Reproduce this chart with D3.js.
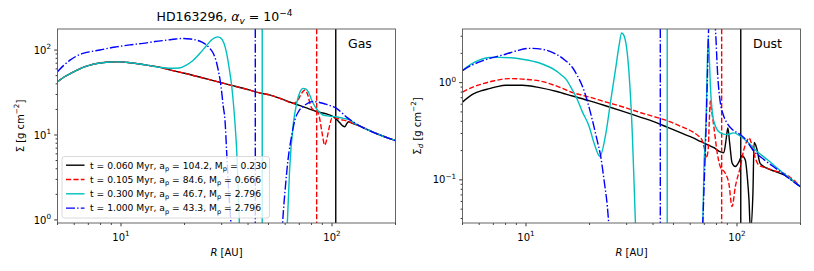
<!DOCTYPE html>
<html><head><meta charset="utf-8">
<script src="https://cdn.jsdelivr.net/npm/d3@7"></script>
<style>
body{margin:0;background:#fff;}
text{font-family:"DejaVu Sans",sans-serif;fill:#000;}
</style></head><body>
<svg id="chart" width="814" height="271"></svg>
<script>
// ---------------- data ----------------
const times   = [0.060, 0.105, 0.300, 1.000];      // Myr
const planetA = [104.2, 84.6, 46.7, 43.3];         // AU
const planetM = [0.230, 0.666, 2.796, 2.796];
const seriesColors = ["#000000", "#ff0000", "#00bfbf", "#0000ff"];
const xTickLabels = [10, 100];
const gasYTicks = [1, 10, 100];
const dustYTicks = [0.1, 1];
const panelNames = ["Gas", "Dust"];

// Gas surface density [R (AU), Sigma (g cm^-2)]
const gasT0060 = [[5,42.4],[5.4,48.5],[5.8,53.5],[6.2,58],[6.7,63.3],[7.2,67],[7.8,70],[8.5,72],[9.3,72.6],[10,72.5],[11,71],[12,69],[13.5,66],[15,63.3],[17,58.5],[20,53.3],[24,47.5],[28,43],[33,38.7],[40,34.2],[46,31],[51,29.5],[58,26.4],[66,23.5],[75,21],[85,18.8],[95,17.6],[101.5,16.4],[105,15.3],[109,13.9],[112.5,12.8],[115.2,12.5],[117.5,13.6],[119.5,14.3],[125,13.7],[135,12.8],[150,11.3],[169,10.0],[185,9.2],[200,8.6]];
const gasT0105 = [[5,42.4],[5.4,48.5],[5.8,53.5],[6.2,58],[6.7,63.3],[7.2,67],[7.8,70],[8.5,72],[9.3,72.6],[10,72.5],[11,71],[12,69],[13.5,66],[15,63.3],[17,58.5],[20,53.3],[24,47.5],[28,43],[33,38.7],[40,34.2],[46,31],[51,29.5],[58,26.4],[66,23.6],[69,25.8],[71.5,30.5],[74.5,33.8],[77,29],[79,22.5],[81.5,19.7],[84.6,19.2],[87,16.5],[89.5,11],[92.4,7.6],[95,9.5],[97.5,13],[100,15.8],[104,15.8],[110,15.2],[118,14.6],[126,13.7],[135,12.8],[150,11.3],[169,10.0],[185,9.2],[200,8.6]];
const gasT0300 = [[5,42.4],[5.4,48.5],[5.8,53.5],[6.2,58],[6.7,63.3],[7.2,67],[7.8,70],[8.5,72],[9.3,72.6],[10,72.5],[11,71],[12,69],[13.5,66],[15.3,62.6],[17,61],[18.9,61.5],[20.5,67],[22,76],[23.8,93],[25.5,114],[27,133],[28.6,143],[29.5,140],[30.7,122],[31.7,91],[32.6,60],[33.5,37],[34.6,15],[35.4,6.1],[36.4,0.9],[37.2,0.3],[60,0.3],[61.4,0.9],[63,4],[65.6,13.7],[68,23.6],[70.5,32],[73,35.4],[75,34.8],[77.2,32.3],[80,26],[83.1,21.6],[86,19.2],[90.6,17.2],[97,16.7],[105,16.4],[113,15.7],[122,15],[128,13.7],[135,12.8],[150,11.3],[169,10.0],[185,9.2],[200,8.6]];
const gasT1000 = [[5,55.6],[5.35,66],[5.73,76],[6.1,84],[6.6,91.4],[7.2,96],[7.95,100],[8.7,105],[9.5,109],[11,115],[12.7,120],[14.5,126],[16.5,131],[18.2,135],[19.8,137],[21.3,135],[22.8,131],[24.2,124],[25.5,114],[26.5,103],[27.4,91],[28.2,75],[28.9,58],[29.8,37],[30.5,22],[31.1,15],[31.7,6.1],[32.4,2.2],[33.2,0.9],[34,0.3],[57,0.3],[58.3,0.9],[60,2.3],[62,5.3],[64.5,10],[66.7,15],[69.5,19],[73,21.6],[77,23.8],[81.4,24.7],[86,24.4],[92,23.3],[98,22.2],[105,20.6],[112,18],[118,16],[126,14.3],[135,12.8],[150,11.3],[169,10.0],[185,9.2],[200,8.6]];

// Dust surface density [R (AU), Sigma_d (g cm^-2)]
const dustT0060 = [[5,0.63],[5.6,0.76],[6.2,0.83],[6.7,0.867],[7.3,0.91],[8,0.938],[9.6,0.938],[11.6,0.888],[14,0.81],[16.6,0.728],[20,0.65],[24,0.575],[28.6,0.509],[35,0.44],[40,0.4],[47.6,0.342],[55,0.3],[62,0.27],[67,0.249],[72,0.232],[78.1,0.213],[82,0.198],[86.6,0.19],[88.8,0.26],[90.5,0.342],[92.3,0.24],[94.8,0.149],[98.2,0.137],[102,0.152],[105.7,0.177],[109.5,0.16],[112,0.105],[114,0.062],[115.8,0.03],[119,0.073],[120.5,0.243],[122.5,0.23],[124.5,0.204],[128.5,0.149],[138.4,0.132],[150,0.123],[166,0.113],[185,0.097],[200,0.085]];
const dustT0105 = [[5,0.8],[5.6,0.9],[6.2,0.97],[7,1.04],[8.3,1.1],[10,1.08],[11.6,1.04],[14,0.92],[16.6,0.79],[20,0.71],[24,0.63],[28.6,0.565],[35,0.49],[40,0.45],[47.6,0.4],[55,0.35],[62,0.31],[65.9,0.281],[68,0.262],[70,0.213],[71.5,0.168],[73,0.204],[73.9,0.4],[74.8,0.646],[76,0.5],[78,0.329],[80.4,0.196],[83.3,0.137],[88,0.117],[91.5,0.092],[94.8,0.053],[98.2,0.085],[103.8,0.137],[107.5,0.2],[111.2,0.249],[114,0.27],[116.5,0.245],[119,0.204],[126.5,0.143],[138.4,0.132],[150,0.124],[166,0.117],[185,0.1],[200,0.085]];
const dustT0300 = [[5,1.33],[5.5,1.55],[6,1.7],[6.7,1.81],[7.5,1.82],[8.5,1.8],[9.6,1.74],[11.5,1.6],[13.9,1.32],[14.7,1.2],[15.5,1.08],[16.3,0.9],[17.2,0.728],[18.5,0.5],[19.9,0.356],[21,0.24],[22.4,0.174],[23.9,0.3],[25.2,0.65],[26.6,1.4],[27.6,2.4],[28.4,3.24],[29.2,3.0],[30.2,2.0],[31,1.0],[31.9,0.3],[32.6,0.08],[33.1,0.03],[34,0.01],[67,0.01],[68.8,0.03],[69.8,0.15],[70.6,0.23],[71.5,0.5],[72.3,1.5],[73,2.92],[73.8,2.0],[74.8,0.924],[76,0.55],[78,0.386],[83.3,0.304],[89.4,0.292],[96.5,0.304],[103.8,0.281],[111.2,0.249],[124.5,0.196],[140,0.16],[160,0.125],[180,0.102],[200,0.085]];
const dustT1000 = [[5,1.33],[5.5,1.5],[6.2,1.67],[7,1.82],[8,1.96],[9,2.12],[10.4,2.25],[12,2.2],[13.9,1.96],[15.3,1.7],[16.6,1.43],[17.5,1.18],[18.5,0.92],[19.5,0.65],[20.6,0.417],[21.6,0.27],[22.6,0.174],[23.5,0.095],[24.3,0.053],[24.8,0.03],[25.5,0.01],[66,0.01],[68.6,0.03],[70,0.1],[71.5,0.4],[72.5,1.3],[73.4,3.7],[74.5,6],[77,6],[79,3.6],[81,1.2],[83.4,0.62],[86,0.47],[89.6,0.386],[95,0.33],[103.8,0.292],[110,0.26],[118.7,0.204],[135,0.16],[160,0.122],[180,0.1],[200,0.085]];

const gasSeries  = [gasT0060, gasT0105, gasT0300, gasT1000];
const dustSeries = [dustT0060, dustT0105, dustT0300, dustT1000];

// ---------------- drawing ----------------
const svg = d3.select("#chart");
const LW = 1.4;
const dashes = [null, "5.2,2.2", null, "9,2.2,1.4,2.2"];

const panels = [
  {left:57.5, right:395.5, top:29, bottom:223, ydom:[0.92,177], series:gasSeries, yticks:gasYTicks, name:panelNames[0], ylabX:20},
  {left:462.5, right:800.5, top:29, bottom:223, ydom:[0.036,3.56], series:dustSeries, yticks:dustYTicks, name:panelNames[1], ylabX:417}
];

function supLabel(sel, base, exp, size){
  sel.text(base);
  sel.append("tspan").attr("dy", -size*0.42).attr("font-size", size*0.72).text(exp);
}

panels.forEach((p, pi) => {
  const x = d3.scaleLog().domain([5, 200]).range([p.left, p.right]);
  const y = d3.scaleLog().domain(p.ydom).range([p.bottom, p.top]);
  const g = svg.append("g");
  const clipId = "clip" + pi;
  svg.append("clipPath").attr("id", clipId).append("rect")
    .attr("x", p.left).attr("y", p.top).attr("width", p.right - p.left).attr("height", p.bottom - p.top);

  const plot = g.append("g").attr("clip-path", `url(#${clipId})`);
  const line = d3.line().x(d => x(d[0])).y(d => y(d[1])).curve(d3.curveMonotoneX);

  p.series.forEach((s, i) => {
    plot.append("path").attr("d", line(s)).attr("fill", "none")
      .attr("stroke", seriesColors[i]).attr("stroke-width", LW)
      .attr("stroke-dasharray", dashes[i]).attr("stroke-linejoin", "round");
    plot.append("line").attr("x1", x(planetA[i])).attr("x2", x(planetA[i]))
      .attr("y1", p.top).attr("y2", p.bottom)
      .attr("stroke", seriesColors[i]).attr("stroke-width", LW)
      .attr("stroke-dasharray", dashes[i]);
  });

  // axes ticks
  const isMajor = v => Math.abs(Math.log10(v) - Math.round(Math.log10(v))) < 1e-6;
  const xt = x.ticks();
  const yt = y.ticks();
  const tickG = g.append("g").attr("stroke", "#000").attr("stroke-width", 0.8);
  xt.forEach(v => {
    const len = isMajor(v) ? 3.3 : 1.9;
    tickG.append("line").attr("x1", x(v)).attr("x2", x(v)).attr("y1", p.bottom).attr("y2", p.bottom + len);
  });
  yt.forEach(v => {
    const len = isMajor(v) ? 3.3 : 1.9;
    tickG.append("line").attr("x1", p.left - len).attr("x2", p.left).attr("y1", y(v)).attr("y2", y(v));
  });
  // frame
  g.append("rect").attr("x", p.left).attr("y", p.top).attr("width", p.right - p.left)
    .attr("height", p.bottom - p.top).attr("fill", "none").attr("stroke", "#555").attr("stroke-width", 0.9);

  const fs = 10;
  xTickLabels.forEach(v => {
    const t = g.append("text").attr("x", x(v)).attr("y", 240.5).attr("text-anchor", "middle").attr("font-size", fs);
    supLabel(t, "10", String(Math.round(Math.log10(v))), fs);
  });
  p.yticks.forEach(v => {
    const e = Math.round(Math.log10(v));
    const t = g.append("text").attr("x", p.left - 6.5).attr("y", y(v) + 3.6).attr("text-anchor", "end").attr("font-size", fs);
    supLabel(t, "10", (e < 0 ? "\u2212" : "") + Math.abs(e), fs);
  });

  // x label
  const xl = g.append("text").attr("x", (p.left + p.right)/2).attr("y", 256).attr("text-anchor", "middle").attr("font-size", fs);
  xl.append("tspan").attr("font-style", "italic").text("R");
  xl.append("tspan").text(" [AU]");

  // y label
  const yl = g.append("text").attr("transform", `translate(${p.ylabX + 3.5},${(p.top + p.bottom)/2}) rotate(-90)`)
    .attr("text-anchor", "middle").attr("font-size", fs);
  yl.append("tspan").text("\u03A3");
  if (pi === 1) {
    yl.append("tspan").attr("font-style", "italic").attr("font-size", fs*0.72).attr("dy", 2.4).text("d");
    yl.append("tspan").attr("dy", -2.4).text(" [g cm");
  } else {
    yl.append("tspan").text(" [g cm");
  }
  yl.append("tspan").attr("font-size", fs*0.72).attr("dy", -4.1).text("\u22122");
  yl.append("tspan").attr("dy", 4.1).text("]");

  // panel name
  g.append("text").attr("x", p.right - 47.5).attr("y", 48).attr("font-size", 12.5).text(p.name);

  if (pi === 0) {
    // title
    const tt = g.append("text").attr("x", (p.left + p.right)/2 - 2).attr("y", 21).attr("text-anchor", "middle").attr("font-size", 12.5);
    tt.append("tspan").text("HD163296, ");
    tt.append("tspan").attr("font-style", "italic").text("\u03B1");
    tt.append("tspan").attr("font-style", "italic").attr("font-size", 9).attr("dy", 2.7).text("v");
    tt.append("tspan").attr("dy", -2.7).text(" = 10");
    tt.append("tspan").attr("font-size", 9).attr("dy", -5.2).text("\u22124");

    // legend
    const lfs = 9.2;
    const lg = g.append("g");
    lg.append("rect").attr("x", 62).attr("y", 156.5).attr("width", 207.5).attr("height", 61.5)
      .attr("rx", 2.5).attr("fill", "#fff").attr("fill-opacity", 0.8).attr("stroke", "#d0d0d0").attr("stroke-width", 0.8);
    times.forEach((t, i) => {
      const cy = 165.2 + i * 14.3;
      lg.append("line").attr("x1", 66).attr("x2", 84.5).attr("y1", cy).attr("y2", cy)
        .attr("stroke", seriesColors[i]).attr("stroke-width", LW).attr("stroke-dasharray", dashes[i]);
      const tx = lg.append("text").attr("x", 90).attr("y", cy + 3.3).attr("font-size", lfs);
      tx.append("tspan").text(`t = ${t.toFixed(3)} Myr, a`);
      tx.append("tspan").attr("font-size", lfs*0.72).attr("dy", 2.2).text("p");
      tx.append("tspan").attr("dy", -2.2).text(` = ${planetA[i].toFixed(1)}, M`);
      tx.append("tspan").attr("font-size", lfs*0.72).attr("dy", 2.2).text("p");
      tx.append("tspan").attr("dy", -2.2).text(` = ${planetM[i].toFixed(3)}`);
    });
  }
});
</script>
</body></html>
